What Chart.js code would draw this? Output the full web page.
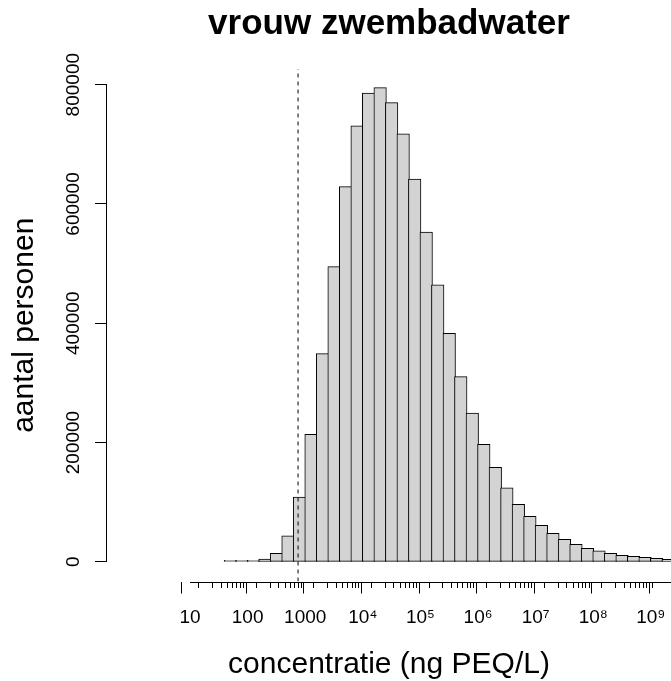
<!DOCTYPE html>
<html>
<head>
<meta charset="utf-8">
<script src="https://cdn.jsdelivr.net/npm/chart.js@4.4.1/dist/chart.umd.min.js"></script>
<style>
html,body{margin:0;padding:0;background:#fff;overflow:hidden}
canvas{display:block}
</style>
</head>
<body>
<canvas id="c" width="671" height="681"></canvas>
<script>
// ---- data (log10 of concentration for bin centres, counts per bin) ----
const binCenters = [1.7, 1.9, 2.1, 2.3, 2.5, 2.7, 2.9, 3.1, 3.3, 3.5, 3.7, 3.9,
  4.1, 4.3, 4.5, 4.7, 4.9, 5.1, 5.3, 5.5, 5.7, 5.9, 6.1, 6.3, 6.5, 6.7, 6.9,
  7.1, 7.3, 7.5, 7.7, 7.9, 8.1, 8.3, 8.5, 8.7, 8.9, 9.1, 9.3];
const counts = [300, 700, 1500, 4500, 14100, 43600, 108500, 213700, 349000, 495000, 629200, 731000,
  786000, 795000, 770000, 717600, 641600, 552700, 464300, 383200, 310400, 249500, 197000, 158400, 124200, 96300, 76200,
  61100, 47600, 37600, 29200, 22500, 18500, 14100, 10700, 9100, 7400, 5700, 4000];
const thresholdConc = [750];
const majorExponents = [1, 2, 3, 4, 5, 6, 7, 8, 9];
const xTickLabels = ['10', '100', '1000', '10\u2074', '10\u2075', '10\u2076', '10\u2077', '10\u2078', '10\u2079'];
const minorMultipliers = [2, 3, 4, 5, 6, 7, 8, 9];
const yTicks = [0, 200000, 400000, 600000, 800000];
const titleText = 'vrouw zwembadwater';
const xTitleText = 'concentratie (ng PEQ/L)';
const yTitleText = 'aantal personen';

// ---- scale ranges ----
const X_MIN = -0.375, X_MAX = 9.283;
const Y_MIN = -33000, Y_MAX = 826300;

const xTickValues = [];
majorExponents.forEach((e, i) => {
  xTickValues.push(e);
  if (i < majorExponents.length - 1) minorMultipliers.forEach(m => xTickValues.push(e + Math.log10(m)));
});
const isMajor = v => majorExponents.indexOf(v) >= 0;

Chart.defaults.font.family = "'Liberation Sans', Arial, sans-serif";
Chart.defaults.color = '#000';

const thrX = Math.log10(thresholdConc[0]);

const axisLines = {
  id: 'axisLines',
  afterDraw(chart) {
    const {ctx} = chart;
    const x = chart.scales.x, y = chart.scales.y;
    ctx.save();
    ctx.strokeStyle = '#000';
    ctx.lineWidth = 1;
    const yb = Math.round(x.top) + 0.5;
    const x0 = Math.round(x.getPixelForValue(majorExponents[0]) - 0.5);
    ctx.beginPath();
    ctx.moveTo(x0, yb);
    ctx.lineTo(chart.width, yb);
    ctx.stroke();
    const xl = Math.round(y.right) - 0.5;
    const yTop = Math.round(y.getPixelForValue(yTicks[yTicks.length - 1]) - 0.5);
    const yBot = Math.round(y.getPixelForValue(yTicks[0]) - 0.5) + 1;
    ctx.beginPath();
    ctx.moveTo(xl, yTop);
    ctx.lineTo(xl, yBot);
    ctx.stroke();
    ctx.restore();
  }
};

new Chart(document.getElementById('c'), {
  type: 'bar',
  data: {
    datasets: [
      {
        type: 'line',
        order: 0,
        data: [{x: thrX, y: Y_MIN}, {x: thrX, y: Y_MAX}],
        borderColor: '#000',
        borderWidth: 1,
        borderDash: [4, 4],
        pointRadius: 0,
        fill: false
      },
      {
        type: 'bar',
        order: 1,
        data: binCenters.map((c, i) => ({x: c, y: counts[i]})),
        backgroundColor: '#D3D3D3',
        borderColor: '#000',
        borderWidth: 1,
        borderSkipped: false,
        barThickness: 'flex',
        barPercentage: 1.0856,
        categoryPercentage: 1,
        minBarLength: 1.5
      }
    ]
  },
  options: {
    responsive: false,
    devicePixelRatio: 1,
    animation: false,
    events: [],
    layout: {padding: 0},
    plugins: {
      legend: {display: false},
      tooltip: {enabled: false},
      title: {
        display: true,
        text: titleText,
        fullSize: false,
        color: '#000',
        font: {size: 35, weight: 'bold'},
        padding: {top: 3, bottom: 24}
      }
    },
    scales: {
      x: {
        type: 'linear',
        min: X_MIN,
        max: X_MAX,
        afterBuildTicks: s => { s.ticks = xTickValues.map(v => ({value: v})); },
        afterFit: s => { s.height = 99.5; s.paddingLeft = 0; s.paddingRight = 0; },
        border: {display: false},
        grid: {
          drawOnChartArea: false,
          drawTicks: true,
          tickLength: 12,
          tickColor: '#000',
          tickWidth: 1,
          tickBorderDash: ctx => (ctx.tick && isMajor(ctx.tick.value)) ? [] : [6, 30]
        },
        ticks: {
          autoSkip: false,
          minRotation: 0,
          maxRotation: 0,
          padding: 12.5,
          color: '#000',
          font: {size: 19},
          callback: v => { const i = majorExponents.indexOf(v); return i >= 0 ? xTickLabels[i] : ''; }
        },
        title: {
          display: true,
          text: xTitleText,
          color: '#000',
          font: {size: 30},
          padding: {top: 0, bottom: -2}
        }
      },
      y: {
        type: 'linear',
        min: Y_MIN,
        max: Y_MAX,
        afterBuildTicks: s => { s.ticks = yTicks.map(v => ({value: v})); },
        afterFit: s => { s.width = 107; s.paddingTop = 0; s.paddingBottom = 0; },
        border: {display: false},
        grid: {
          drawOnChartArea: false,
          drawTicks: true,
          tickLength: 12,
          tickColor: '#000',
          tickWidth: 1
        },
        ticks: {
          minRotation: 90,
          maxRotation: 90,
          crossAlign: 'center',
          padding: -10.5,
          color: '#000',
          font: {size: 19},
          callback: v => String(v)
        },
        title: {
          display: true,
          text: yTitleText,
          color: '#000',
          font: {size: 30},
          padding: {top: 7, bottom: 0}
        }
      }
    }
  },
  plugins: [axisLines]
});
</script>
</body>
</html>
